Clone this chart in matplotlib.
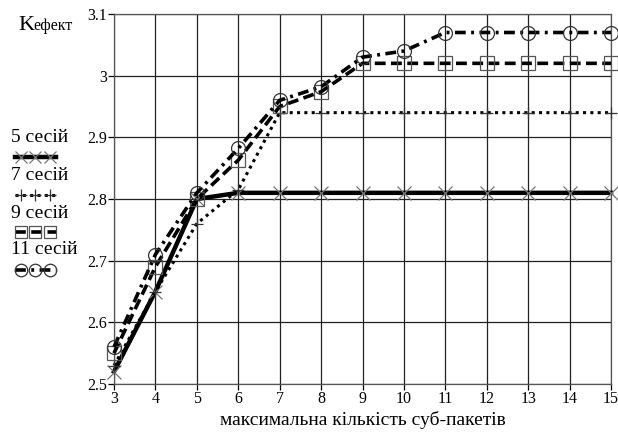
import matplotlib
matplotlib.use("Agg")
import matplotlib.pyplot as plt
from matplotlib.lines import Line2D

plt.rcParams['font.family'] = ['Liberation Serif', 'DejaVu Serif']

x = list(range(3, 16))
s5 = [2.52, 2.65, 2.80, 2.81, 2.81, 2.81, 2.81, 2.81, 2.81, 2.81, 2.81, 2.81, 2.81]
s7 = [2.53, 2.65, 2.76, 2.815, 2.94, 2.94, 2.94, 2.94, 2.94, 2.94, 2.94, 2.94, 2.94]
s9 = [2.55, 2.69, 2.80, 2.863, 2.95, 2.974, 3.02, 3.02, 3.02, 3.02, 3.02, 3.02, 3.02]
s11 = [2.56, 2.71, 2.81, 2.882, 2.96, 2.982, 3.03, 3.04, 3.07, 3.07, 3.07, 3.07, 3.07]
labels = ["5 сесій", "7 сесій", "9 сесій", "11 сесій"]
yticks = [2.5, 2.6, 2.7, 2.8, 2.9, 3.0, 3.1]
ytick_labels = ["2.5", "2.6", "2.7", "2.8", "2.9", "3", "3.1"]

W, H = 618, 432
fig = plt.figure(figsize=(W/100, H/100), dpi=100)
ax = fig.add_axes([114/W, 1-384/H, (611-114)/W, (384-14)/H])

styles = [
    dict(color='black', lw=3.2, ls='-', marker='x', ms=10, mec='#777777', mew=0.9),
    dict(color='black', lw=2.2, ls=(0, (1, 1.4)), marker='+', ms=9, mec='#333333', mew=0.9),
    dict(color='black', lw=2.6, ls=(0, (3, 1.5)), marker='s', ms=10, mfc='none', mec='#555555', mew=0.9),
    dict(color='black', lw=2.6, ls=(0, (3, 1.5, 0.8, 1.5)), marker='o', ms=10, mfc='none', mec='#333333', mew=0.9),
]
for ys, st in zip([s5, s7, s9, s11], styles):
    ax.plot(x, ys, clip_on=False, zorder=3, **st)

ax.set_xlim(3, 15)
ax.set_ylim(2.5, 3.1)
ax.set_xticks(x)
ax.set_xticklabels([str(v) for v in x])
ax.set_yticks(yticks)
ax.set_yticklabels(ytick_labels)
ax.grid(True, color='#222222', lw=0.9)
for sp in ax.spines.values():
    sp.set_color('#555555')
    sp.set_linewidth(0.9)
ax.tick_params(axis='both', labelsize=11.5, direction='out', length=4, width=0.9, pad=1)
ax.set_xlabel("максимальна кількість суб-пакетів", fontsize=14, labelpad=3)

fig.text(18/W, 1-30/H, "K", fontsize=16, va='baseline', ha='left')
fig.text(33/W, 1-30/H, "ефект", fontsize=11.5, va='baseline', ha='left')

# legend on the left
text_y = [137, 175, 213, 250]
samp_y = [157, 195, 232, 270]
for lab, ty, sy, st in zip(labels, text_y, samp_y, styles):
    fig.text(11/W, 1-ty/H, lab, fontsize=14, va='center', ha='left')
    ms = st['ms'] * 0.9
    ln = Line2D([15/W, 56/W], [1-sy/H, 1-sy/H], transform=fig.transFigure,
                color='black', lw=st['lw'], ls=st['ls'])
    fig.add_artist(ln)
    mk = Line2D([21/W, 35/W, 50/W], [1-sy/H]*3, transform=fig.transFigure, ls='none',
                marker=st['marker'], ms=ms, mec=st.get('mec', 'black'),
                mfc=st.get('mfc', 'none'), mew=st.get('mew', 1))
    fig.add_artist(mk)

fig.savefig("out.png", dpi=100)
